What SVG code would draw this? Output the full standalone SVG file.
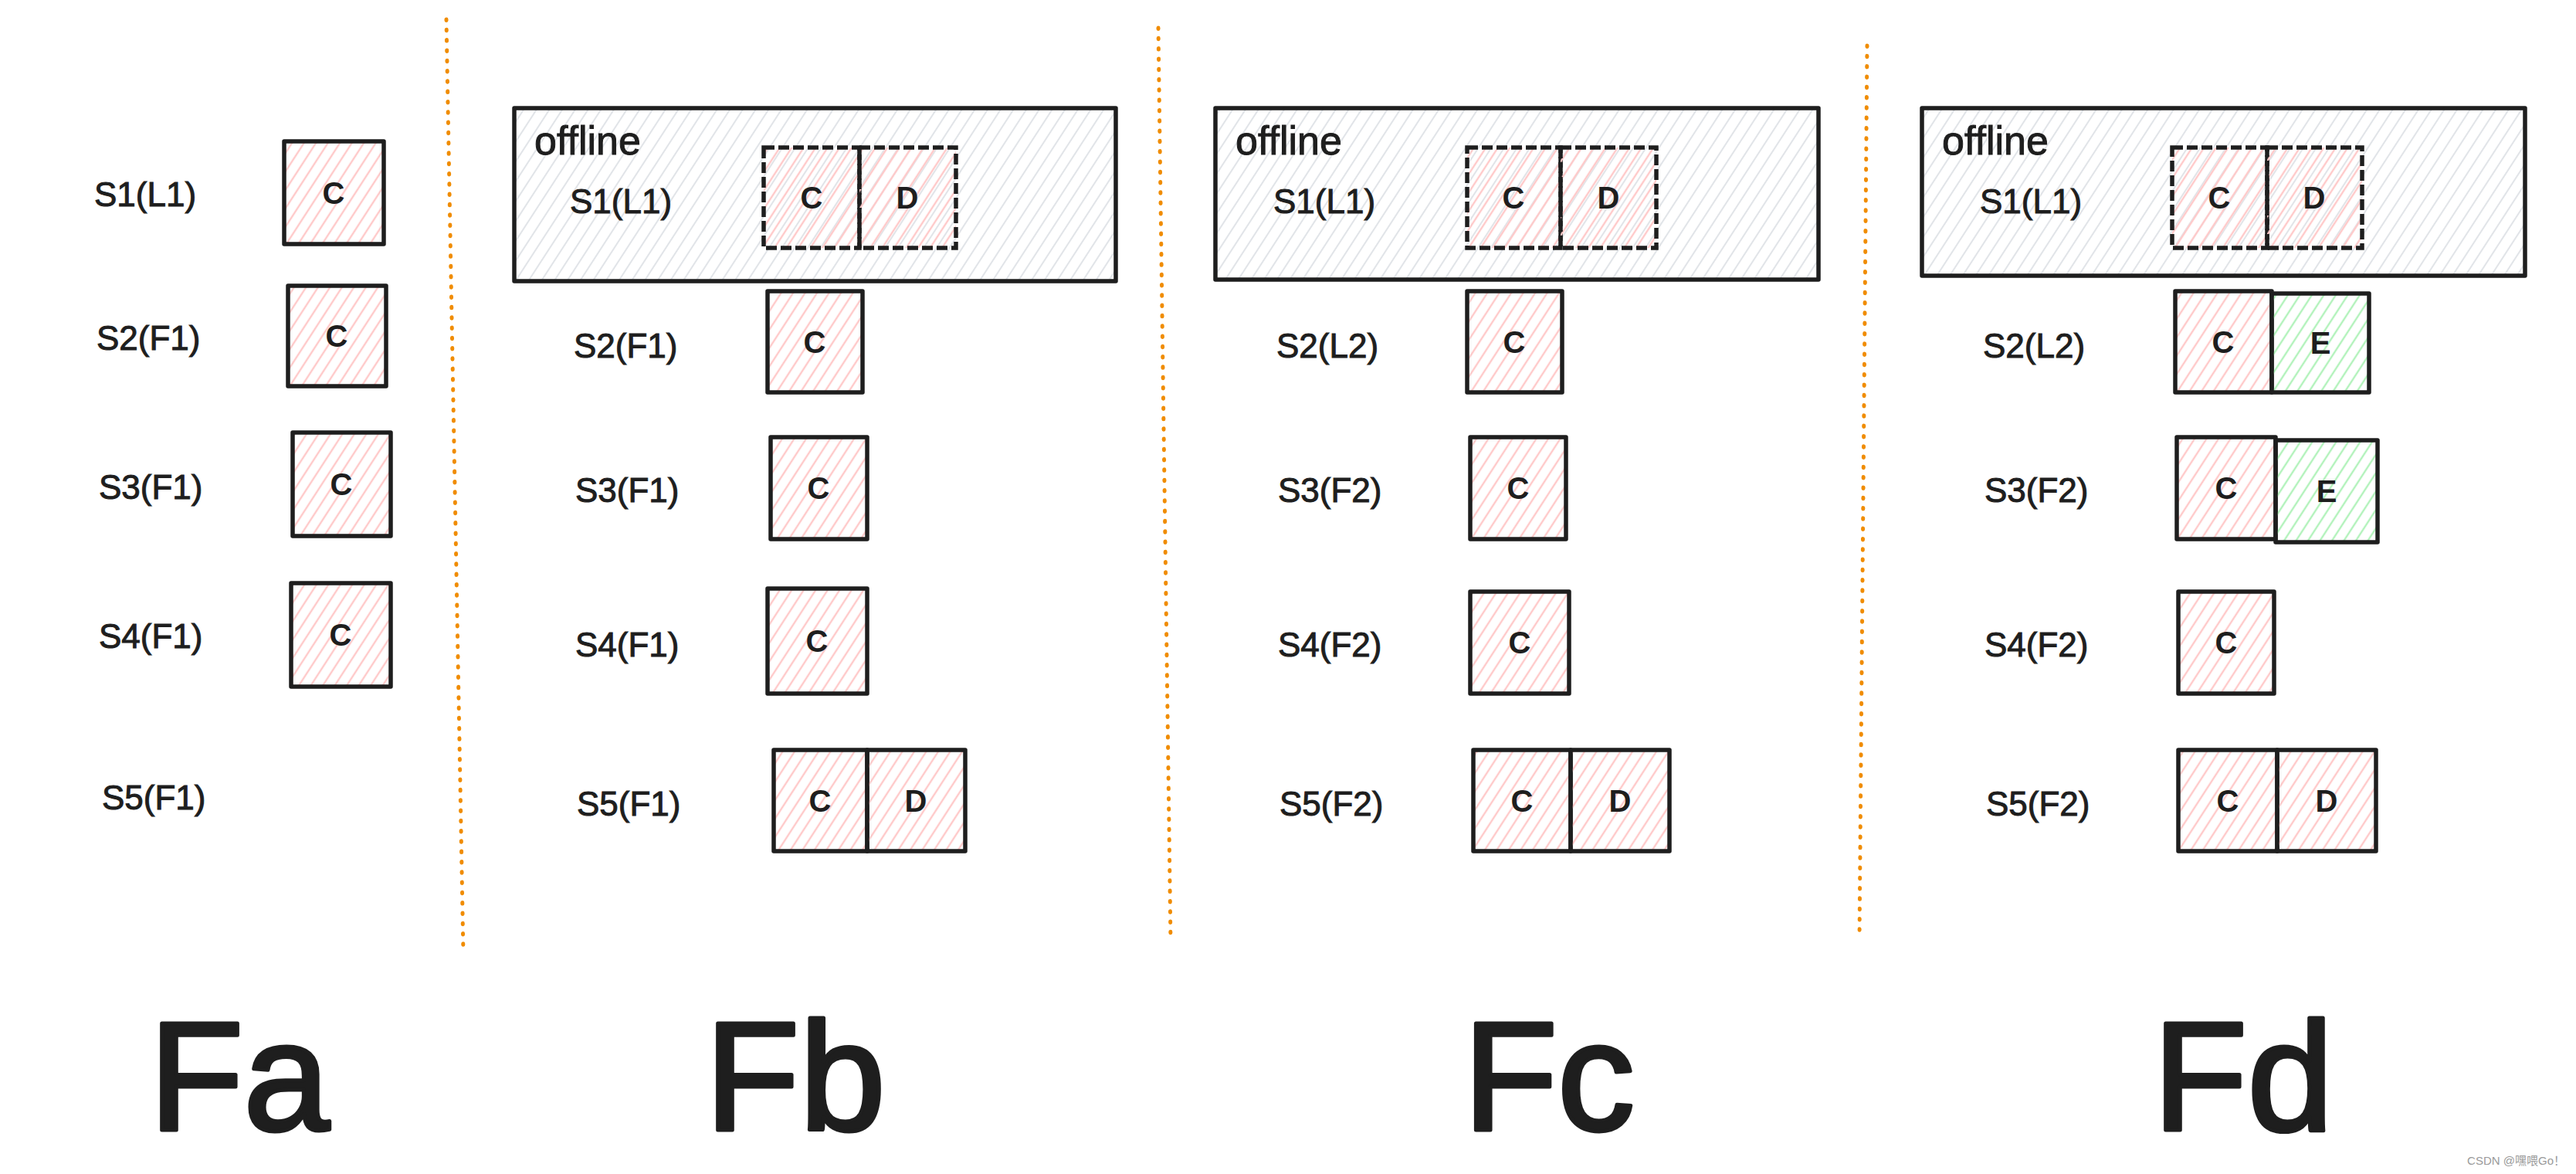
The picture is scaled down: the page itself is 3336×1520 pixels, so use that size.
<svg xmlns="http://www.w3.org/2000/svg" width="3336" height="1520" viewBox="0 0 3336 1520">
<defs>
<pattern id="hPink" patternUnits="userSpaceOnUse" width="13" height="13" patternTransform="rotate(33)"><line x1="2" y1="0" x2="2" y2="13" stroke="#ffc9c9" stroke-width="2.4"/></pattern>
<pattern id="hGreen" patternUnits="userSpaceOnUse" width="13" height="13" patternTransform="rotate(33)"><line x1="2" y1="0" x2="2" y2="13" stroke="#b2f2bb" stroke-width="2.4"/></pattern>
<pattern id="hGray" patternUnits="userSpaceOnUse" width="14" height="14" patternTransform="rotate(33)"><line x1="2" y1="0" x2="2" y2="14" stroke="#e1e4e8" stroke-width="2"/></pattern>
</defs>
<style>
.lbl{font-family:"Liberation Sans","Noto Sans",sans-serif;font-size:44px;fill:#1e1e1e;stroke:#1e1e1e;stroke-width:1}
.let{font-family:"Liberation Sans","Noto Sans",sans-serif;font-size:40px;font-weight:bold;fill:#1e1e1e;text-anchor:middle}
.off{font-family:"Liberation Sans","Noto Sans",sans-serif;font-size:52px;fill:#1e1e1e;stroke:#1e1e1e;stroke-width:1}
.big{font-family:"Liberation Sans","Noto Sans",sans-serif;font-size:200px;fill:#1e1e1e;stroke:#1e1e1e;stroke-width:5;stroke-linejoin:round;text-anchor:middle}
.bp{fill:url(#hPink);stroke:#1e1e1e;stroke-width:5.5;stroke-linejoin:round}
.bg{fill:url(#hGreen);stroke:#1e1e1e;stroke-width:5.5;stroke-linejoin:round}
.bd{fill:url(#hPink);stroke:#1e1e1e;stroke-width:5.5;stroke-dasharray:14 5}
.ob{fill:url(#hGray);stroke:#1e1e1e;stroke-width:5.5;stroke-linejoin:round}
.sep{fill:none;stroke:#f08c00;stroke-width:5;stroke-linecap:round;stroke-dasharray:1.5 11.8}
</style>
<rect width="3336" height="1520" fill="#ffffff"/>

<g id="separators">
<line class="sep" x1="578" y1="25" x2="600" y2="1235"/>
<line class="sep" x1="1500" y1="36" x2="1516" y2="1219"/>
<line class="sep" x1="2418" y1="59" x2="2408" y2="1216"/>
</g>

<!-- Column Fa -->
<g id="fa">
<text class="lbl" x="122" y="267">S1(L1)</text>
<text class="lbl" x="125" y="453">S2(F1)</text>
<text class="lbl" x="128" y="646">S3(F1)</text>
<text class="lbl" x="128" y="839">S4(F1)</text>
<text class="lbl" x="132" y="1048">S5(F1)</text>
<g id="fa-s1-c"><rect class="bp" x="368" y="183" width="129" height="133"/><text class="let" x="432" y="264">C</text></g>
<g id="fa-s2-c"><rect class="bp" x="373" y="370" width="127" height="130"/><text class="let" x="436" y="449">C</text></g>
<g id="fa-s3-c"><rect class="bp" x="379" y="560" width="127" height="134"/><text class="let" x="442" y="641">C</text></g>
<g id="fa-s4-c"><rect class="bp" x="377" y="755" width="129" height="134"/><text class="let" x="441" y="836">C</text></g>
<text class="big" x="310" y="1463">Fa</text>
</g>

<!-- Column Fb -->
<g id="fb">
<g id="fb-offline"><rect class="ob" x="666" y="140" width="779" height="224"/><text class="off" x="692" y="200">offline</text></g>
<text class="lbl" x="738" y="276">S1(L1)</text>
<g id="fb-s1-c"><rect class="bd" x="989" y="191" width="124" height="130"/><text class="let" x="1051" y="270">C</text></g>
<g id="fb-s1-d"><rect class="bd" x="1113" y="191" width="125" height="130"/><text class="let" x="1175" y="270">D</text></g>
<text class="lbl" x="743" y="463">S2(F1)</text>
<g id="fb-s2-c"><rect class="bp" x="994" y="377" width="123" height="131"/><text class="let" x="1055" y="457">C</text></g>
<text class="lbl" x="745" y="650">S3(F1)</text>
<g id="fb-s3-c"><rect class="bp" x="998" y="566" width="125" height="132"/><text class="let" x="1060" y="646">C</text></g>
<text class="lbl" x="745" y="850">S4(F1)</text>
<g id="fb-s4-c"><rect class="bp" x="994" y="762" width="129" height="136"/><text class="let" x="1058" y="844">C</text></g>
<text class="lbl" x="747" y="1056">S5(F1)</text>
<g id="fb-s5-c"><rect class="bp" x="1002" y="971" width="121" height="131"/><text class="let" x="1062" y="1051">C</text></g>
<g id="fb-s5-d"><rect class="bp" x="1123" y="971" width="127" height="131"/><text class="let" x="1186" y="1051">D</text></g>
<text class="big" x="1030" y="1463">Fb</text>
</g>

<!-- Column Fc -->
<g id="fc">
<g id="fc-offline"><rect class="ob" x="1574" y="140" width="781" height="222"/><text class="off" x="1600" y="200">offline</text></g>
<text class="lbl" x="1649" y="276">S1(L1)</text>
<g id="fc-s1-c"><rect class="bd" x="1900" y="191" width="121" height="130"/><text class="let" x="1960" y="270">C</text></g>
<g id="fc-s1-d"><rect class="bd" x="2021" y="191" width="124" height="130"/><text class="let" x="2083" y="270">D</text></g>
<text class="lbl" x="1653" y="463">S2(L2)</text>
<g id="fc-s2-c"><rect class="bp" x="1900" y="377" width="123" height="131"/><text class="let" x="1961" y="457">C</text></g>
<text class="lbl" x="1655" y="650">S3(F2)</text>
<g id="fc-s3-c"><rect class="bp" x="1904" y="566" width="124" height="132"/><text class="let" x="1966" y="646">C</text></g>
<text class="lbl" x="1655" y="850">S4(F2)</text>
<g id="fc-s4-c"><rect class="bp" x="1904" y="766" width="128" height="132"/><text class="let" x="1968" y="846">C</text></g>
<text class="lbl" x="1657" y="1056">S5(F2)</text>
<g id="fc-s5-c"><rect class="bp" x="1908" y="971" width="126" height="131"/><text class="let" x="1971" y="1051">C</text></g>
<g id="fc-s5-d"><rect class="bp" x="2034" y="971" width="128" height="131"/><text class="let" x="2098" y="1051">D</text></g>
<text class="big" x="2006" y="1463">Fc</text>
</g>

<!-- Column Fd -->
<g id="fd">
<g id="fd-offline"><rect class="ob" x="2489" y="140" width="781" height="217"/><text class="off" x="2515" y="200">offline</text></g>
<text class="lbl" x="2564" y="276">S1(L1)</text>
<g id="fd-s1-c"><rect class="bd" x="2813" y="191" width="123" height="130"/><text class="let" x="2874" y="270">C</text></g>
<g id="fd-s1-d"><rect class="bd" x="2936" y="191" width="123" height="130"/><text class="let" x="2997" y="270">D</text></g>
<text class="lbl" x="2568" y="463">S2(L2)</text>
<g id="fd-s2-c"><rect class="bp" x="2817" y="377" width="125" height="131"/><text class="let" x="2879" y="457">C</text></g>
<g id="fd-s2-e"><rect class="bg" x="2942" y="380" width="126" height="128"/><text class="let" x="3005" y="458">E</text></g>
<text class="lbl" x="2570" y="650">S3(F2)</text>
<g id="fd-s3-c"><rect class="bp" x="2819" y="566" width="128" height="132"/><text class="let" x="2883" y="646">C</text></g>
<g id="fd-s3-e"><rect class="bg" x="2947" y="570" width="132" height="132"/><text class="let" x="3013" y="650">E</text></g>
<text class="lbl" x="2570" y="850">S4(F2)</text>
<g id="fd-s4-c"><rect class="bp" x="2821" y="766" width="124" height="132"/><text class="let" x="2883" y="846">C</text></g>
<text class="lbl" x="2572" y="1056">S5(F2)</text>
<g id="fd-s5-c"><rect class="bp" x="2821" y="971" width="128" height="131"/><text class="let" x="2885" y="1051">C</text></g>
<g id="fd-s5-d"><rect class="bp" x="2949" y="971" width="128" height="131"/><text class="let" x="3013" y="1051">D</text></g>
<text class="big" x="2905" y="1463">Fd</text>
</g>

<text x="3322" y="1508" text-anchor="end" font-family="'Liberation Sans','Noto Sans CJK SC',sans-serif" font-size="15" fill="#9a9a9a">CSDN @嘿喂Go！</text>
</svg>
